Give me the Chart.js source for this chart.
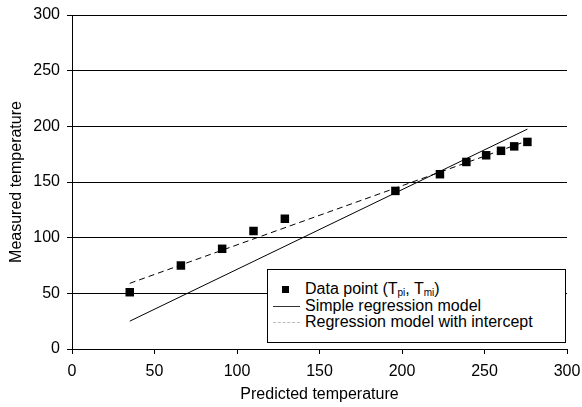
<!DOCTYPE html>
<html>
<head>
<meta charset="utf-8">
<script src="https://cdn.jsdelivr.net/npm/chart.js@4"></script>
<style>
  body { margin: 0; background: #fff; font-family: "Liberation Sans", Arial, sans-serif; }
  #wrap { position: relative; width: 582px; height: 407px; }
  #legendBox {
    position: absolute; left: 267px; top: 269px; width: 297px; height: 72px;
    border: 1px solid #000; background: #fff; font-size: 16px; color: #000;
  }
  .row { position: absolute; left: 0; height: 16px; line-height: 16px; white-space: nowrap; }
  .row .txt { position: absolute; left: 37px; top: 0; }
  .row sub { font-size: 10px; vertical-align: -2px; line-height: 0; }
  .mark { position: absolute; left: 14px; top: 5px; width: 7px; height: 7px; background: #000; }
  .solid { position: absolute; left: 5px; top: 8px; width: 27px; border-top: 1px solid #333; }
  .dot { position: absolute; left: 5px; top: 8px; width: 27px; border-top: 1px dashed #bbb; }
</style>
</head>
<body>
<div id="wrap">
  <canvas id="tempChart"></canvas>
  <div id="legendBox">
    <div class="row" style="top:11px"><span class="mark"></span><span class="txt">Data point (T<sub>pi</sub>, T<sub>mi</sub>)</span></div>
    <div class="row" style="top:28px"><span class="solid"></span><span class="txt">Simple regression model</span></div>
    <div class="row" style="top:44px"><span class="dot"></span><span class="txt">Regression model with intercept</span></div>
  </div>
</div>
<script>
// 데이터
const predicted = [35, 66, 91, 110, 129, 196, 223, 239, 251, 260, 268, 276];
const measured = [51, 75, 90, 106, 117, 142, 157, 168, 174, 178, 182, 186];

// 회귀선 끝점
const simpleX = [35, 276];
const simpleY = [25, 197.5];
const interceptX = [35, 276];
const interceptY = [59, 187];

const tickValues = [0, 50, 100, 150, 200, 250, 300];

function toPoints(xs, ys) {
    return xs.map(function (x, i) { return { x: x, y: ys[i] }; });
}

Chart.defaults.font.family = '"Liberation Sans", Arial, sans-serif';
Chart.defaults.color = '#000';

var ctx = document.getElementById('tempChart').getContext('2d');
var tempChart = new Chart(ctx, {
    type: 'scatter',
    data: {
        datasets: [
            {
                label: 'Data point (Tpi, Tmi)',
                data: toPoints(predicted, measured),
                pointStyle: 'rect',
                pointRadius: 6,
                backgroundColor: '#000',
                borderColor: '#000',
                borderWidth: 0,
                order: 0
            },
            {
                label: 'Simple regression model',
                type: 'line',
                data: toPoints(simpleX, simpleY),
                borderColor: '#000',
                borderWidth: 1,
                pointRadius: 0,
                fill: false,
                order: 1
            },
            {
                label: 'Regression model with intercept',
                type: 'line',
                data: toPoints(interceptX, interceptY),
                borderColor: '#000',
                borderWidth: 1,
                borderDash: [6, 4],
                pointRadius: 0,
                fill: false,
                order: 2
            }
        ]
    },
    options: {
        responsive: true,
        maintainAspectRatio: false,
        animation: false,
        layout: { padding: { top: 15, right: 15, left: 0, bottom: 0 } },
        plugins: {
            legend: { display: false },
            tooltip: { enabled: false }
        },
        scales: {
            x: {
                type: 'linear',
                min: 0,
                max: 300,
                afterBuildTicks: function (scale) {
                    scale.ticks = tickValues.map(function (v) { return { value: v }; });
                },
                afterFit: function (scale) {
                    scale.height = 58;
                    scale.paddingLeft = 0;
                    scale.paddingRight = 0;
                },
                grid: { drawOnChartArea: false, drawTicks: true, tickLength: 5, color: '#000' },
                border: { display: true, color: '#000', width: 1 },
                ticks: { font: { size: 16 }, padding: 8, maxRotation: 0 },
                title: { display: true, text: 'Predicted temperature', font: { size: 16 }, padding: { top: 2, bottom: 3 } }
            },
            y: {
                type: 'linear',
                min: 0,
                max: 300,
                afterBuildTicks: function (scale) {
                    scale.ticks = tickValues.map(function (v) { return { value: v }; });
                },
                afterFit: function (scale) {
                    scale.width = 72;
                    scale.paddingTop = 0;
                    scale.paddingBottom = 0;
                },
                grid: { drawOnChartArea: true, drawTicks: true, tickLength: 5, color: '#000', lineWidth: 1 },
                border: { display: true, color: '#000', width: 1 },
                ticks: { font: { size: 16 }, padding: 7 },
                title: { display: true, text: 'Measured temperature', font: { size: 16 }, padding: { top: 7, bottom: 4 } }
            }
        }
    }
});
</script>
</body>
</html>
